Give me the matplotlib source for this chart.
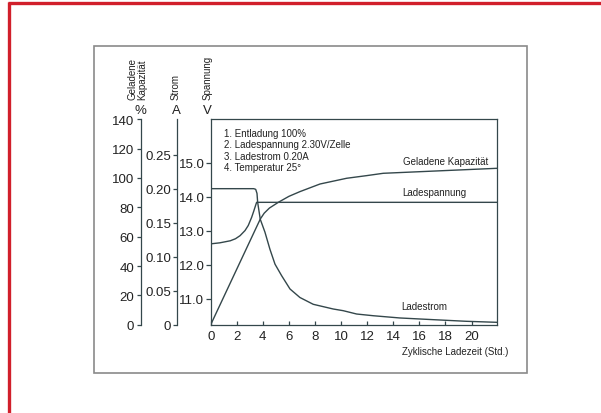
import matplotlib
matplotlib.use("Agg")
import matplotlib.pyplot as plt
from matplotlib.lines import Line2D
from matplotlib.patches import Rectangle

plt.rcParams['font.family'] = ['Liberation Sans', 'DejaVu Sans']

# ---------------- data ----------------
hours_ticks = [0, 2, 4, 6, 8, 10, 12, 14, 16, 18, 20]
volt_ticks = [11.0, 12.0, 13.0, 14.0, 15.0]
amp_ticks = [0, 0.05, 0.10, 0.15, 0.20, 0.25]
pct_ticks = [0, 20, 40, 60, 80, 100, 120, 140]

# Ladespannung (V)
volt_t = [0, 0.7, 1.5, 1.9, 2.25, 2.63, 2.88, 3.14, 3.3, 3.4, 3.52, 21.95]
volt_v = [12.62, 12.65, 12.71, 12.77, 12.86, 13.01, 13.16, 13.40, 13.58, 13.70, 13.84, 13.84]

# Ladestrom (A)
cur_t = [0, 3.3, 3.45, 3.55, 3.6, 3.8, 4.16, 4.54, 4.93, 5.44, 6.08, 6.84, 7.86,
         9.39, 10.16, 11.19, 12.46, 14.5, 17.06, 19.6, 21.95]
cur_a = [0.200, 0.200, 0.199, 0.193, 0.180, 0.155, 0.136, 0.111, 0.089, 0.072, 0.0525,
         0.040, 0.030, 0.0231, 0.0206, 0.0157, 0.0132, 0.0099, 0.0074, 0.0050, 0.0035]

# Geladene Kapazität (%)
cap_t = [0, 3.8, 4.1, 4.5, 5.2, 6.0, 6.84, 8.38, 10.42, 11.95, 13.23, 21.95]
cap_p = [0, 72.0, 76.0, 79.5, 83.5, 87.5, 90.7, 95.9, 99.8, 101.6, 103.2, 106.6]

notes = ["1. Entladung 100%", "2. Ladespannung 2.30V/Zelle",
         "3. Ladestrom 0.20A", "4. Temperatur 25°"]

# ---------------- layout ----------------
W, H = 601, 414
fig = plt.figure(figsize=(W / 100, H / 100), dpi=100)
fig.patch.set_facecolor('white')

def fx(px):
    return px / W

def fy(py):
    return 1 - py / H

LC = '#34474b'
TC = '#222222'
left, right, top, bottom = 210.7, 497.0, 120.3, 325.7
ax = fig.add_axes([fx(left), fy(bottom), fx(right) - fx(left), fy(top) - fy(bottom)])
ax.set_facecolor('none')
for s in ax.spines.values():
    s.set_color(LC)
    s.set_linewidth(0.9)

ax.set_xlim(0, 21.95)
ax.set_ylim(10.244, 16.28)
ax.set_xticks(hours_ticks)
ax.set_xticklabels([str(h) for h in hours_ticks])
ax.set_yticks(volt_ticks)
ax.set_yticklabels([f"{v:.1f}" for v in volt_ticks])
ax.tick_params(axis='x', direction='in', length=3, width=0.9, color=LC,
               labelsize=9.5, labelcolor=TC, pad=4)
ax.tick_params(axis='y', direction='out', length=3.5, width=0.9, color=LC,
               labelsize=9.5, labelcolor=TC, pad=1)

# current axis
ax_c = ax.twinx()
ax_c.set_ylim(0, 0.302)
ax_c.yaxis.set_label_position('left')
ax_c.yaxis.tick_left()
ax_c.spines['left'].set_position(('axes', (177.3 - left) / (right - left)))
for k in ['right', 'top', 'bottom']:
    ax_c.spines[k].set_visible(False)
ax_c.spines['left'].set_color(LC)
ax_c.spines['left'].set_linewidth(0.9)
ax_c.set_yticks(amp_ticks)
ax_c.set_yticklabels(['0'] + [f"{a:.2f}" for a in amp_ticks[1:]])
ax_c.tick_params(axis='y', direction='out', length=3, width=0.9, color=LC,
                 labelsize=9.5, labelcolor=TC, pad=1.5)

# percent axis
ax_p = ax.twinx()
ax_p.set_ylim(0, 140)
ax_p.yaxis.set_label_position('left')
ax_p.yaxis.tick_left()
ax_p.spines['left'].set_position(('axes', (140.5 - left) / (right - left)))
for k in ['right', 'top', 'bottom']:
    ax_p.spines[k].set_visible(False)
ax_p.spines['left'].set_color(LC)
ax_p.spines['left'].set_linewidth(0.9)
ax_p.set_yticks(pct_ticks)
ax_p.set_yticklabels([str(p) for p in pct_ticks])
ax_p.tick_params(axis='y', direction='out', length=3, width=0.9, color=LC,
                 labelsize=9.5, labelcolor=TC, pad=1.5)

# curves
ax.plot(volt_t, volt_v, color=LC, lw=1.0)
ax_c.plot(cur_t, cur_a, color=LC, lw=1.0)
ax_p.plot(cap_t, cap_p, color=LC, lw=1.0)

# texts
for i, n in enumerate(notes):
    fig.text(fx(223.8), fy(134.3 + i * 11.1), n, fontsize=7, color=TC,
             ha='left', va='center')
fig.text(fx(402.7), fy(161.7), "Geladene Kapazität", fontsize=7, color=TC, va='center')
fig.text(fx(402.7), fy(193.3), "Ladespannung", fontsize=7, color=TC, va='center')
fig.text(fx(401.7), fy(306.7), "Ladestrom", fontsize=7, color=TC, va='center')
fig.text(fx(402.0), fy(351.7), "Zyklische Ladezeit (Std.)", fontsize=7, color=TC, va='center')

# unit labels
fig.text(fx(140.5), fy(111), "%", fontsize=9.5, color=TC, ha='center', va='center')
fig.text(fx(176.3), fy(111), "A", fontsize=9.5, color=TC, ha='center', va='center')
fig.text(fx(207.5), fy(111), "V", fontsize=9.5, color=TC, ha='center', va='center')
fig.text(fx(137.0), fy(100), "Geladene\nKapazität", fontsize=7, color=TC,
         rotation=90, ha='center', va='bottom', multialignment='left', linespacing=0.95)
fig.text(fx(176.0), fy(100), "Strom", fontsize=7, color=TC,
         rotation=90, ha='center', va='bottom')
fig.text(fx(207.5), fy(100), "Spannung", fontsize=7, color=TC,
         rotation=90, ha='center', va='bottom')

# gray frame
fig.add_artist(Rectangle((fx(93.5), fy(374)), fx(526.5) - fx(93.5), fy(46.7) - fy(374),
                         transform=fig.transFigure, fill=False, edgecolor='#8a8a8a', lw=1.2))

# red border
red = '#d11f2b'
fig.add_artist(Line2D([fx(7.5), 1], [fy(3.5), fy(3.5)], transform=fig.transFigure,
                      color=red, lw=2.4, solid_capstyle='butt'))
fig.add_artist(Line2D([fx(8.5), fx(8.5)], [0, fy(2.5)], transform=fig.transFigure,
                      color=red, lw=2.4, solid_capstyle='butt'))

fig.savefig("out.png", dpi=100, facecolor='white')
